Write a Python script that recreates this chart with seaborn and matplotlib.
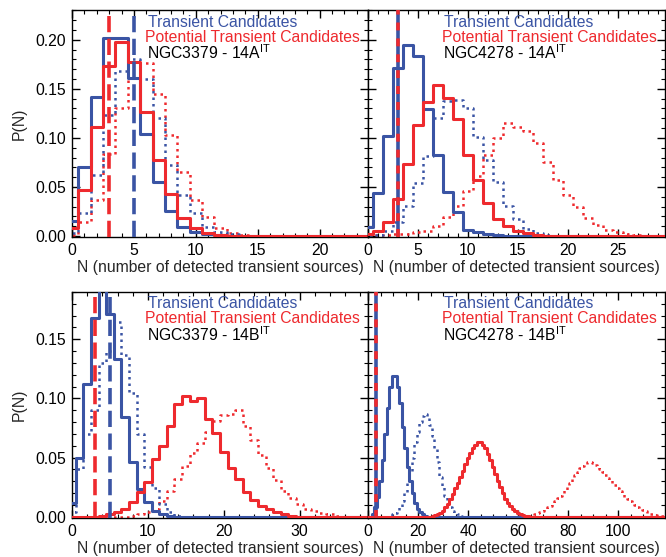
import numpy as np
import pandas as pd
import matplotlib
matplotlib.use("Agg")
import matplotlib.pyplot as plt
import seaborn as sns
from matplotlib.ticker import MultipleLocator

# ---------------- data (P(N) per integer N, starting at N=0) ----------------
# NGC3379 - 14A
tl_tc = [0.015, 0.0705, 0.142, 0.202, 0.202, 0.161, 0.104, 0.055, 0.025, 0.0095, 0.0044, 0.002, 0.0007]
tl_ptc = [0.008, 0.047, 0.111, 0.173, 0.198, 0.177, 0.126, 0.077, 0.043, 0.018, 0.008, 0.003, 0.001]
tl_tc_dot = [0.003, 0.023, 0.062, 0.123, 0.168, 0.180, 0.160, 0.120, 0.072, 0.042, 0.023, 0.0095, 0.0044, 0.002]
tl_ptc_dot = [0.001, 0.0146, 0.037, 0.084, 0.130, 0.177, 0.176, 0.145, 0.103, 0.065, 0.037, 0.019, 0.008, 0.0034, 0.0014]
tl_obs_tc, tl_obs_ptc = 5, 3

# NGC4278 - 14A
tr_tc = [0.009, 0.044, 0.102, 0.171, 0.195, 0.184, 0.129, 0.083, 0.045, 0.024, 0.0064, 0.0044, 0.002, 0.001]
tr_ptc = [0.002, 0.0054, 0.0146, 0.0376, 0.073, 0.113, 0.137, 0.154, 0.141, 0.119, 0.083, 0.057, 0.034,
          0.017, 0.0105, 0.0054, 0.0027, 0.001, 0.0005]
tr_tc_dot = [0.0, 0.001, 0.005, 0.014, 0.031, 0.054, 0.082, 0.120, 0.138, 0.139, 0.131, 0.101, 0.078,
             0.055, 0.031, 0.017, 0.007, 0.003, 0.0015, 0.0005]
tr_ptc_dot = [0.0005, 0.001, 0.001, 0.002, 0.002, 0.0037, 0.0054, 0.0105, 0.019, 0.031, 0.046, 0.061,
              0.083, 0.100, 0.115, 0.111, 0.107, 0.095, 0.075, 0.057, 0.042, 0.030, 0.018, 0.011,
              0.0065, 0.004, 0.002, 0.001, 0.0005]
tr_obs_tc, tr_obs_ptc = 3, 3

# NGC3379 - 14B
bl_tc = [0.012, 0.050, 0.112, 0.168, 0.195, 0.171, 0.133, 0.084, 0.046, 0.0235, 0.0123, 0.0053, 0.0025, 0.001]
bl_ptc = [0.0, 0.0, 0.0, 0.0, 0.001, 0.002, 0.004, 0.0067, 0.0123, 0.021, 0.0297, 0.0487, 0.060, 0.0768,
          0.095, 0.1025, 0.098, 0.100, 0.083, 0.0706, 0.055, 0.041, 0.032, 0.0207, 0.0146, 0.009,
          0.0067, 0.0039, 0.0025, 0.001]
bl_tc_dot = [0.004, 0.040, 0.070, 0.090, 0.130, 0.140, 0.165, 0.137, 0.105, 0.070, 0.042, 0.024, 0.011, 0.004, 0.001]
bl_ptc_dot = [0.0, 0.0, 0.0, 0.0, 0.0, 0.0, 0.0, 0.0, 0.001, 0.002, 0.004, 0.007, 0.0137, 0.022, 0.032,
              0.043, 0.054, 0.062, 0.072, 0.081, 0.0857, 0.0866, 0.090, 0.077, 0.065, 0.052, 0.041,
              0.031, 0.022, 0.016, 0.011, 0.007, 0.0045, 0.003, 0.002, 0.001]
bl_obs_tc, bl_obs_ptc = 5, 3

# NGC4278 - 14B
br_tc = [0.0, 0.0, 0.002, 0.008, 0.017, 0.030, 0.048, 0.070, 0.092, 0.110, 0.119, 0.119, 0.110,
         0.096, 0.076, 0.058, 0.042, 0.030, 0.020, 0.012, 0.007, 0.004, 0.002, 0.001]
br_tc_dot = [0.0] * 9 + [0.001, 0.002, 0.003, 0.005, 0.008, 0.013, 0.020, 0.030, 0.038, 0.050, 0.063,
                         0.072, 0.080, 0.085, 0.087, 0.084, 0.078, 0.068, 0.058, 0.046, 0.034, 0.026,
                         0.018, 0.012, 0.008, 0.005, 0.003, 0.002, 0.001]
br_ptc = [0.0] * 26 + [0.001, 0.0015, 0.002, 0.003, 0.005, 0.008, 0.011, 0.015, 0.019, 0.024, 0.029,
                       0.034, 0.039, 0.045, 0.050, 0.054, 0.058, 0.061, 0.063, 0.063, 0.061, 0.058,
                       0.053, 0.048, 0.042, 0.036, 0.030, 0.025, 0.020, 0.015, 0.012, 0.009, 0.0065,
                       0.0045, 0.003, 0.002, 0.0015, 0.001, 0.0005]
br_ptc_dot = [0.0] * 64 + [0.0005, 0.001, 0.0015, 0.002, 0.003, 0.004, 0.005, 0.0065, 0.008,
                           0.0095, 0.011, 0.013, 0.0155, 0.0175, 0.020, 0.023, 0.026, 0.029, 0.032,
                           0.035, 0.038, 0.041, 0.043, 0.045, 0.046, 0.046, 0.0455, 0.044, 0.042,
                           0.040, 0.038, 0.0355, 0.033, 0.031, 0.029, 0.027, 0.0245, 0.022, 0.0195,
                           0.017, 0.015, 0.013, 0.0115, 0.010, 0.0085, 0.007, 0.0055, 0.0045, 0.0035,
                           0.0028, 0.002, 0.0015, 0.001, 0.0007, 0.0005]
br_obs_tc, br_obs_ptc = 3, 3

titles = ["NGC3379 - 14A$^{\\mathrm{IT}}$", "NGC4278 - 14A$^{\\mathrm{IT}}$",
          "NGC3379 - 14B$^{\\mathrm{IT}}$", "NGC4278 - 14B$^{\\mathrm{IT}}$"]
legend_tc = "Transient Candidates"
legend_ptc = "Potential Transient Candidates"
xlabel = "N (number of detected transient sources)"
ylabel = "P(N)"

# ---------------- style ----------------
sns.set_theme(style="white")
plt.rcParams['font.family'] = ['Liberation Sans', 'DejaVu Sans']
plt.rcParams['mathtext.fontset'] = 'custom'
plt.rcParams['mathtext.rm'] = 'Liberation Sans'
plt.rcParams['axes.edgecolor'] = 'black'
plt.rcParams['axes.linewidth'] = 1.0

BLUE = '#3A54A4'
RED = '#EE2A2E'
FS = 11.3

fig = plt.figure(figsize=(6.66, 5.57), dpi=100)
W = 666.0
H = 557.0
pos = {
    'tl': [72 / W, 1 - 237 / H, 296 / W, 227 / H],
    'tr': [368 / W, 1 - 237 / H, 297 / W, 227 / H],
    'bl': [72 / W, 1 - 518 / H, 296 / W, 226 / H],
    'br': [368 / W, 1 - 518 / H, 297 / W, 226 / H],
}

panels = [
    ('tl', tl_tc, tl_ptc, tl_tc_dot, tl_ptc_dot, tl_obs_tc, tl_obs_ptc, titles[0], (0, 23.9), (-0.001, 0.2304), 5, 1, True),
    ('tr', tr_tc, tr_ptc, tr_tc_dot, tr_ptc_dot, tr_obs_tc, tr_obs_ptc, titles[1], (0, 29.7), (-0.001, 0.2304), 5, 1, False),
    ('bl', bl_tc, bl_ptc, bl_tc_dot, bl_ptc_dot, bl_obs_tc, bl_obs_ptc, titles[2], (0, 39.0), (-0.001, 0.19), 10, 2, True),
    ('br', br_tc, br_ptc, br_tc_dot, br_ptc_dot, br_obs_tc, br_obs_ptc, titles[3], (0, 118.8), (-0.001, 0.19), 20, 5, False),
]


def step_hist(ax, vals, xmax, color, ls, lw, z):
    n = int(np.ceil(xmax)) + 2
    v = list(vals) + [0.0] * max(0, n - len(vals))
    df = pd.DataFrame({'N': np.arange(len(v), dtype=float), 'P': v})
    sns.histplot(data=df, x='N', weights='P', binwidth=1.0, binrange=(-0.5, len(v) - 0.5),
                 element='step', fill=False,
                 color=color, linestyle=ls, linewidth=lw, ax=ax, zorder=z)


DOT = (0, (1.0, 1.6))
for key, tc, ptc, tcd, ptcd, otc, optc, title, xl, yl, xmaj, xmin, lefty in panels:
    ax = fig.add_axes(pos[key])
    step_hist(ax, ptcd, xl[1], RED, DOT, 1.8, 2)
    step_hist(ax, tcd, xl[1], BLUE, DOT, 1.8, 2)
    step_hist(ax, tc, xl[1], BLUE, '-', 2.2, 3)
    step_hist(ax, ptc, xl[1], RED, '-', 2.2, 3)
    if otc == optc:
        ax.axvline(otc, color=BLUE, lw=2.6, zorder=4)
        ax.axvline(optc, color=RED, lw=2.6, dashes=(2.2, 2.2), zorder=5)
    else:
        ax.axvline(optc, color=RED, lw=2.6, dashes=(4.5, 1.8), zorder=5)
        ax.axvline(otc, color=BLUE, lw=2.6, dashes=(4.5, 1.8), zorder=5)
    ax.set_xlim(*xl)
    ax.set_ylim(*yl)
    ax.xaxis.set_major_locator(MultipleLocator(xmaj))
    ax.xaxis.set_minor_locator(MultipleLocator(xmin))
    ax.yaxis.set_major_locator(MultipleLocator(0.05))
    ax.yaxis.set_minor_locator(MultipleLocator(0.01))
    ax.yaxis.set_major_formatter(matplotlib.ticker.FormatStrFormatter('%.2f'))
    ax.tick_params(which='both', direction='in', top=True, right=True, bottom=True, left=True,
                   colors='black', labelsize=FS)
    ax.tick_params(which='major', length=6, width=1.0, pad=4)
    ax.tick_params(which='minor', length=3, width=0.8)
    ax.set_xlabel(xlabel, fontsize=FS, labelpad=2)
    if lefty:
        ax.set_ylabel(ylabel, fontsize=FS, labelpad=6)
    else:
        ax.set_ylabel('')
        ax.tick_params(labelleft=False)
    for s in ax.spines.values():
        s.set_color('black')
        s.set_linewidth(1.0)
    ax.text(0.256, 0.947, legend_tc, color=BLUE, fontsize=FS, transform=ax.transAxes, va='center', ha='left')
    ax.text(0.248, 0.881, legend_ptc, color=RED, fontsize=FS, transform=ax.transAxes, va='center', ha='left')
    ax.text(0.252, 0.812, title, color='black', fontsize=FS, transform=ax.transAxes, va='center', ha='left')

fig.savefig('out.png', dpi=100)
